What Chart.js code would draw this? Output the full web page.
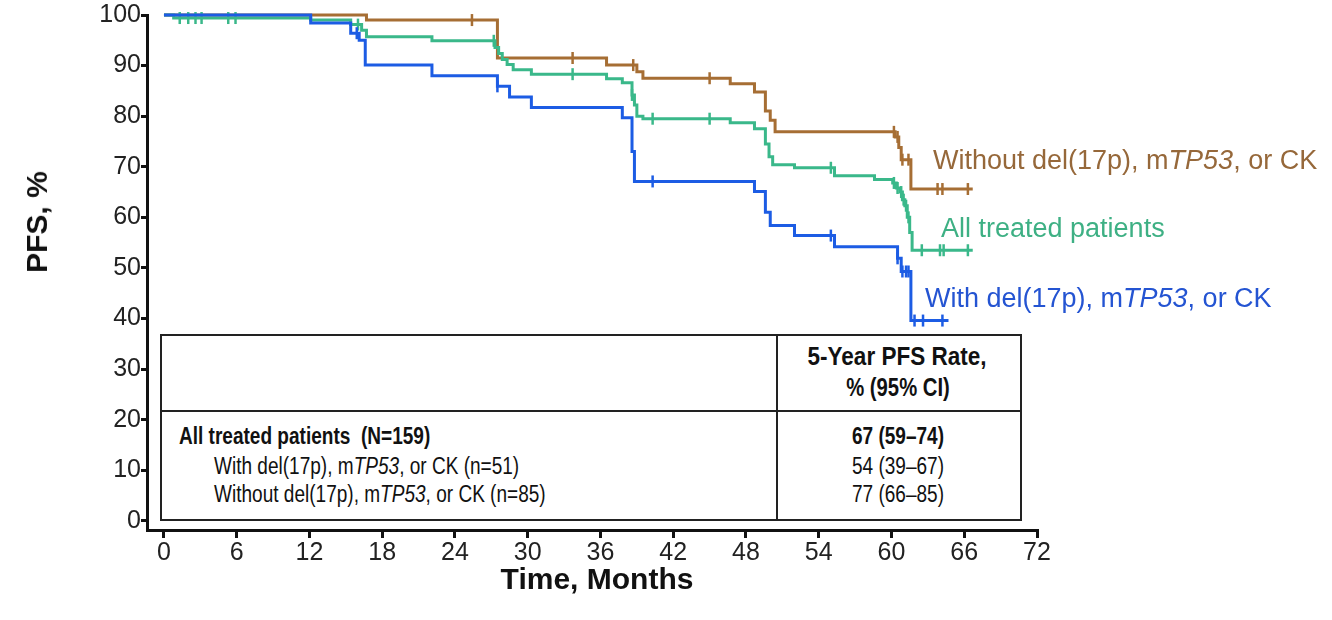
<!DOCTYPE html>
<html>
<head>
<meta charset="utf-8">
<script src="https://cdn.jsdelivr.net/npm/chart.js@4.4.1/dist/chart.umd.min.js"></script>
<style>
	body { margin: 0; background: #fff; }
	#wrap { position: relative; width: 1332px; height: 620px; font-family: 'Liberation Sans', Arial, sans-serif; color: #222; }
	#chart { position: absolute; left: 0; top: 0; }
	.abs { position: absolute; white-space: nowrap; }
	.mid { transform: translateY(-50%); }
	.ctr { transform: translate(-50%, -50%); }
	.title { font-weight: bold; font-size: 30px; color: #111; }
	.lbl { font-size: 27px; }
	#table { position: absolute; left: 160px; top: 334px; width: 858px; height: 183px; border: 2.5px solid #222; background: #fff; }
	#table .vline { position: absolute; left: 614px; top: 0; width: 2px; height: 100%; background: #222; }
	#table .hline { position: absolute; left: 0; top: 74px; width: 100%; height: 2px; background: #222; }
	.tx { font-family: 'Liberation Sans Narrow', 'Arial Narrow', 'Liberation Sans', sans-serif; font-size: 23.5px; color: #111; }
	.tx.mid { transform: translateY(-50%) scaleX(0.81); transform-origin: left center; }
	.tx.ctr { transform: translate(-50%, -50%) scaleX(0.81); transform-origin: center center; }
	.tx.wide { transform: translate(-50%, -50%) scaleX(0.9); }
	.b { font-weight: bold; }
</style>
</head>
<body>
<div id="wrap">
	<canvas id="chart" width="1332" height="620"></canvas>
</div>
<script>
const xTicks = [0, 6, 12, 18, 24, 30, 36, 42, 48, 54, 60, 66, 72];
const yTicks = [0, 10, 20, 30, 40, 50, 60, 70, 80, 90, 100];

// Without del(17p), mTP53, or CK
const withoutTimes = [0, 16.7, 27.5, 36.5, 39.0, 39.5, 46.7, 48.7, 49.6, 50.0, 50.4, 60.3, 60.6, 60.8, 61.6, 66.7];
const withoutSurv = [100, 99.0, 91.5, 90.1, 88.8, 87.5, 86.4, 84.8, 81.0, 79.2, 76.9, 75.9, 73.8, 71.4, 65.6, 65.6];
const withoutCensor = [25.4, 33.7, 38.7, 45.0, 60.2, 60.5, 60.9, 61.4, 63.8, 64.2, 66.3];

// All treated patients
const allTimes = [0, 0.8, 12.1, 15.4, 16.3, 16.7, 22.1, 27.3, 27.6, 27.9, 28.3, 28.8, 30.3, 36.5, 37.8, 38.6, 38.8, 39.0, 39.5, 46.7, 48.7, 49.6, 49.9, 50.2, 52.0, 55.3, 58.6, 60.1, 60.4, 60.7, 60.9, 61.1, 61.3, 61.5, 61.7, 66.7];
const allSurv = [100, 99.4, 99.0, 98.1, 97.0, 95.7, 94.9, 93.6, 92.4, 91.2, 90.2, 89.2, 88.3, 87.4, 86.6, 84.2, 82.2, 80.0, 79.5, 78.7, 77.5, 74.5, 72.0, 70.4, 69.8, 68.2, 67.5, 66.8, 65.8, 65.0, 63.5, 62.3, 60.0, 57.0, 53.5, 53.5];
const allCensor = [1.3, 2.0, 2.6, 3.1, 5.3, 5.9, 16.0, 27.2, 33.7, 38.6, 40.3, 45.0, 55.0, 60.2, 60.5, 60.8, 61.0, 61.2, 61.4, 62.5, 64.0, 64.3, 66.3];

// With del(17p), mTP53, or CK
const withTimes = [0, 12.1, 15.4, 16.1, 16.6, 22.1, 27.5, 28.5, 30.3, 37.8, 38.6, 38.8, 48.7, 49.6, 50.0, 52.0, 55.3, 60.5, 60.8, 61.6, 64.7];
const withSurv = [100, 98.4, 96.4, 95.0, 90.1, 88.0, 85.9, 83.8, 81.7, 79.7, 73.0, 67.1, 65.1, 61.0, 58.4, 56.4, 54.2, 51.9, 49.3, 39.6, 39.6];
const withCensor = [15.9, 27.5, 40.3, 55.0, 60.5, 60.9, 61.2, 61.4, 61.9, 62.6, 64.2];

const colWithout = 'rgb(166, 110, 52)';
const colAll = 'rgb(58, 184, 138)';
const colWith = 'rgb(28, 92, 228)';

const survAt = (times, surv, t) => {
	let v = surv[0];
	times.forEach((tt, i) => {
		if (tt <= t) v = surv[i];
	});
	return v;
};

const curve = (times, surv, color, order) => ({
	data: times.map((t, i) => ({ x: t, y: surv[i] })),
	showLine: true,
	stepped: true,
	borderColor: color,
	borderWidth: 3,
	pointRadius: 0,
	clip: false,
	order
});
const ticks = (times, surv, censor, color, order) => ({
	data: censor.map(t => ({ x: t, y: survAt(times, surv, t) })),
	showLine: false,
	pointStyle: 'line',
	rotation: 90,
	pointRadius: 6,
	borderWidth: 2.5,
	borderColor: color,
	backgroundColor: color,
	clip: false,
	order
});

new Chart(document.getElementById('chart'), {
	type: 'scatter',
	data: {
		datasets: [
			curve(withTimes, withSurv, colWith, 1),
			ticks(withTimes, withSurv, withCensor, colWith, 1),
			curve(allTimes, allSurv, colAll, 2),
			ticks(allTimes, allSurv, allCensor, colAll, 2),
			curve(withoutTimes, withoutSurv, colWithout, 3),
			ticks(withoutTimes, withoutSurv, withoutCensor, colWithout, 3)
		]
	},
	options: {
		responsive: false,
		animation: false,
		layout: { padding: { left: 0, top: 15, right: 295, bottom: 0 } },
		plugins: { legend: { display: false }, tooltip: { enabled: false } },
		scales: {
			x: {
				type: 'linear',
				min: -1.4,
				max: 72,
				afterBuildTicks: s => { s.ticks = xTicks.map(v => ({ value: v })); },
				afterFit: s => { s.height = 90; },
				grid: { drawOnChartArea: false, tickLength: 8, lineWidth: 3, color: '#111' },
				border: { width: 3, color: '#111' },
				ticks: { font: { family: 'Liberation Sans', size: 25 }, color: '#222', padding: 0, maxRotation: 0 }
			},
			y: {
				type: 'linear',
				min: -1.8,
				max: 100,
				afterBuildTicks: s => { s.ticks = yTicks.map(v => ({ value: v })); },
				afterFit: s => { s.width = 147; },
				grid: { drawOnChartArea: false, tickLength: 6, lineWidth: 3, color: '#111' },
				border: { width: 3, color: '#111' },
				ticks: { font: { family: 'Liberation Sans', size: 25 }, color: '#222', padding: 0 }
			}
		}
	}
});

const wrap = document.getElementById('wrap');
const add = (html, cls, css) => {
	const d = document.createElement('div');
	d.className = 'abs ' + cls;
	d.style.cssText = css;
	d.innerHTML = html;
	wrap.appendChild(d);
	return d;
};

add('PFS, %', 'title', 'left:37px;top:222px;transform:translate(-50%,-50%) rotate(-90deg);');
add('Time, Months', 'title ctr', 'left:597px;top:579px;');

add('Without del(17p), m<i>TP53</i>, or CK', 'lbl mid', `left:933px;top:160px;color:rgb(150,104,58);`);
add('All treated patients', 'lbl mid', `left:941px;top:228px;color:rgb(62,176,132);`);
add('With del(17p), m<i>TP53</i>, or CK', 'lbl mid', `left:925px;top:298px;color:rgb(36,84,210);`);

const table = document.createElement('div');
table.id = 'table';
table.innerHTML = '<div class="vline"></div><div class="hline"></div>';
wrap.appendChild(table);

const rowLabels = ['All treated patients&nbsp; (N=159)', 'With del(17p), m<i>TP53</i>, or CK (n=51)', 'Without del(17p), m<i>TP53</i>, or CK (n=85)'];
const rowRates = ['67 (59–74)', '54 (39–67)', '77 (66–85)'];
const rowY = [436, 466, 494];

add('5-Year PFS Rate,', 'tx b ctr wide', 'left:897px;top:356px;font-size:25px;');
add('% (95% CI)', 'tx b ctr', 'left:898px;top:387px;font-size:25px;');
rowLabels.forEach((t, i) => {
	add(t, 'tx mid' + (i === 0 ? ' b' : ''), `left:${i === 0 ? 179 : 214}px;top:${rowY[i]}px;`);
	add(rowRates[i], 'tx ctr' + (i === 0 ? ' b' : ''), `left:898px;top:${rowY[i]}px;`);
});
</script>
</body>
</html>
